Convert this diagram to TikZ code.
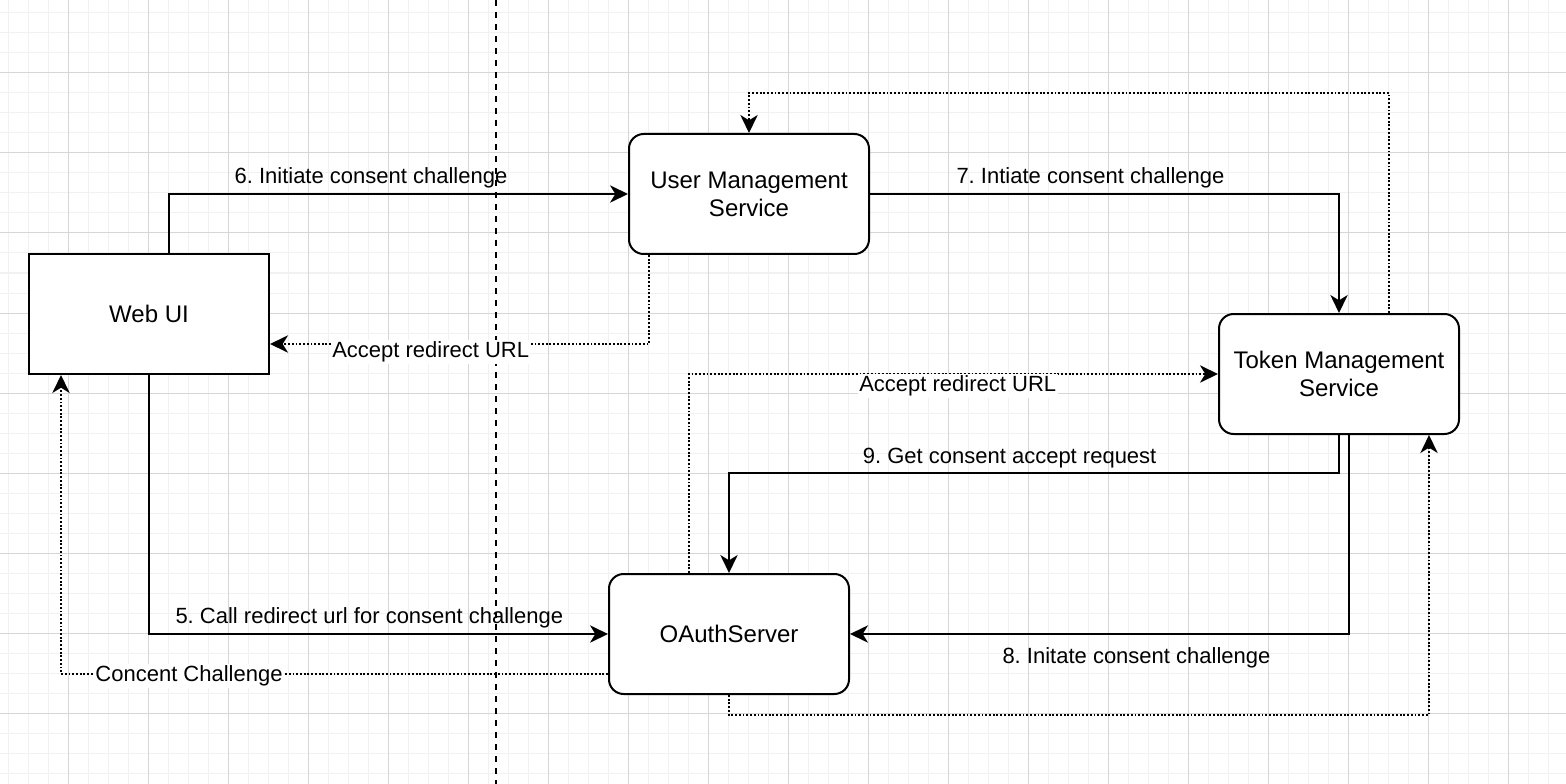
\documentclass[tikz,border=0pt]{standalone}
\usepackage{fontspec}
\setmainfont{Liberation Sans}
\usetikzlibrary{arrows.meta}
\definecolor{gridminor}{HTML}{F1F1F1}
\definecolor{gridmajor}{HTML}{D6D6D6}
\frenchspacing
\begin{document}
\begin{tikzpicture}[x=0.75pt,y=-0.75pt,
  box/.style={draw=black, line width=1.5pt, fill=white, minimum width=180pt, minimum height=90pt, inner sep=0pt, align=center, font=\fontsize{18}{21}\selectfont},
  rbox/.style={box, rounded corners=11pt},
  conn/.style={line width=1.3pt, -{Stealth[length=13.5pt,width=13pt,inset=4pt]}},
  dconn/.style={conn, line width=1.5pt, dash pattern=on 1.4pt off 1.4pt},
  lbl/.style={font=\fontsize{16.5}{19}\selectfont, inner sep=1pt},
  wlbl/.style={lbl, fill=white},
]
\useasboundingbox (0,0) rectangle (1566,784);
\fill[white] (0,0) rectangle (1566,784);
\foreach \x in {8,28,...,1566} \draw[gridminor, line width=0.75pt] (\x,0) -- (\x,784);
\foreach \y in {13,33,...,784} \draw[gridminor, line width=0.75pt] (0,\y) -- (1566,\y);
\foreach \x in {68,148,...,1566} \draw[gridmajor, line width=0.75pt] (\x,0) -- (\x,784);
\foreach \y in {73,153,...,784} \draw[gridmajor, line width=0.75pt] (0,\y) -- (1566,\y);

% divider
\coordinate (divtop) at (496,0);
\coordinate (divbot) at (496,784);
\draw[line width=1.5pt, dash pattern=on 4.5pt off 4.5pt] (divtop) -- (divbot);

% nodes
\node[box]  (web)   at (149,314)  {Web UI};
\node[rbox] (ums)   at (749,194)  {User Management\\Service};
\node[rbox] (tms)   at (1339,374) {Token Management\\Service};
\node[rbox] (oauth) at (729,634)  {OAuthServer};

% 6
\draw[conn] ([xshift=15pt]web.north) |- node[lbl, pos=0.72, yshift=12pt] {6. Initiate consent challenge} (ums.west);
% 7
\draw[conn] (ums.east) -| node[lbl, pos=0.235, yshift=12pt] {7. Intiate consent challenge} (tms.north);
% dotted top loop
\draw[dconn] ([xshift=37.5pt]tms.north) |- ([yshift=30pt]ums.north) -- (ums.north);
% accept redirect URL (upper)
\draw[dconn] ([xshift=-75pt]ums.south) |- node[wlbl, pos=0.788, yshift=-6pt] {Accept redirect URL} ([yshift=-22.5pt]web.east);
% accept redirect URL (lower)
\draw[dconn] ([xshift=-30pt]oauth.north) |- node[wlbl, pos=0.754, yshift=-9pt] {Accept redirect URL} (tms.west);
% 9
\draw[conn] (tms.south) |- node[lbl, pos=0.77, yshift=11.5pt] {9. Get consent accept request} ([yshift=75pt]oauth.north) -- (oauth.north);
% 8
\draw[conn] ([xshift=7.5pt]tms.south) |- node[lbl, pos=0.713, yshift=-18pt] {8. Initate consent challenge} (oauth.east);
% dotted bottom loop
\draw[dconn] (oauth.south) -- ([yshift=-15pt]oauth.south) -| ([xshift=67.5pt]tms.south);
% 5
\draw[conn] (web.south) |- node[lbl, pos=0.74, yshift=12.5pt] {5. Call redirect url for consent challenge} (oauth.west);
% Concent Challenge
\draw[dconn] ([yshift=-30pt]oauth.west) -| node[wlbl, pos=0.383, yshift=-1.5pt] {Concent Challenge} ([xshift=-66pt]web.south);
\end{tikzpicture}
\end{document}
